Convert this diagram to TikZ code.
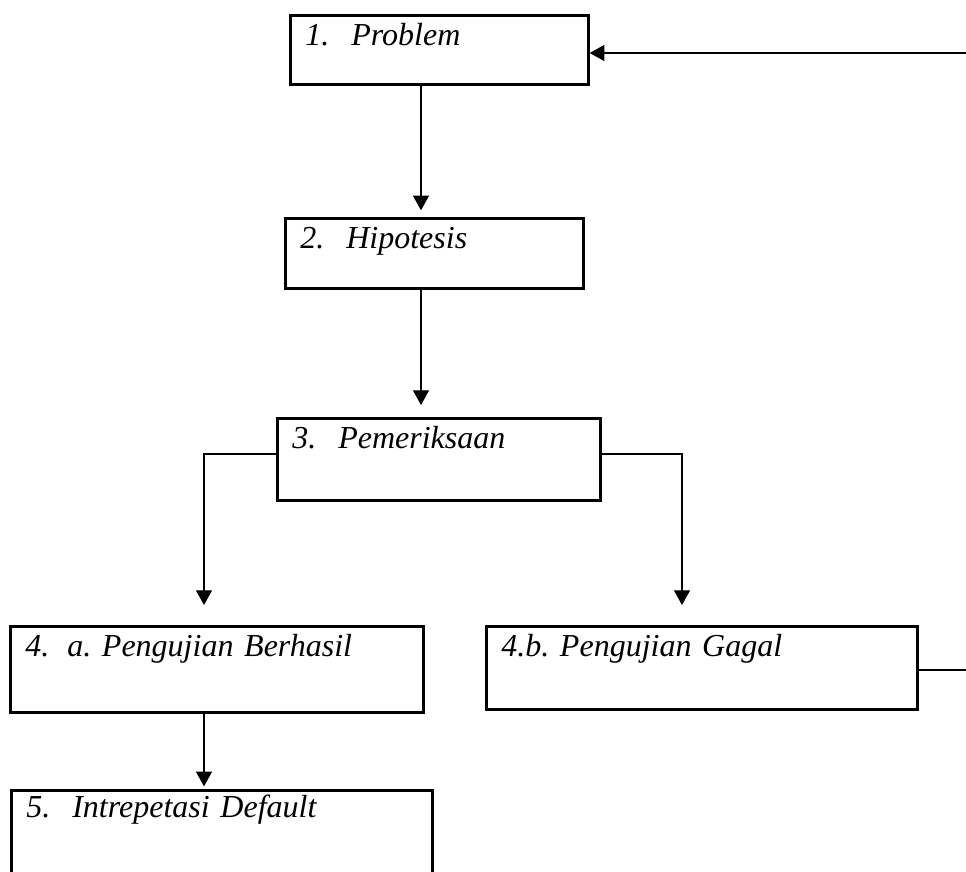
\documentclass[tikz,border=0pt]{standalone}
\usepackage{fontspec}
\setmainfont{Liberation Serif}
\usetikzlibrary{arrows.meta,positioning}

\newcommand{\stepno}[2][34.5pt]{\makebox[#1][l]{#2}}

\begin{document}
\frenchspacing
\begin{tikzpicture}[x=0.75pt, y=-0.75pt, >={Triangle[length=11pt,width=12pt]},
  stage/.style 2 args={draw, line width=2pt, anchor=north west, inner xsep=11.25pt, inner ysep=0pt,
    text width=#1, text height=22.5pt, text depth=#2, align=left,
    font=\fontsize{24}{28}\selectfont\itshape},
  link/.style={line width=0.8pt}]
\useasboundingbox (0,0) rectangle (966,871);
% boxes
\node[stage={201pt}{29.25pt}] (problem) at (289,14) {\stepno{1.}Problem};
\node[stage={201pt}{30pt}] (hipo) at (284,217) {\stepno{2.}Hipotesis};
\node[stage={219.75pt}{39pt}] (periksa) at (276,417) {\stepno{3.}Pemeriksaan};
\node[stage={287.25pt}{42pt}] (berhasil) at (9,625) {\stepno[31.5pt]{4.}a. Pengujian Berhasil};
\node[stage={300.75pt}{39.75pt}] (gagal) at (485,625) {4.b. Pengujian Gagal};
\node[stage={293.25pt}{62pt}, text height=20.5pt] (default) at (10,789) {\stepno{5.}Intrepetasi Default};
% turning points
\coordinate (midA) at (421,0);
\coordinate (forkL) at (204,454);
\coordinate (forkR) at (682,454);
\coordinate (loopB) at (975,670);
\coordinate (loopT) at (975,53);
% connectors
\draw[link,->,shorten >=5pt] (problem.south -| midA) -- (hipo.north -| midA);
\draw[link,->,shorten >=9pt] (hipo.south -| midA) -- (periksa.north -| midA);
\draw[link,->,shorten >=15pt] (periksa.west |- forkL) -| (berhasil.north -| forkL);
\draw[link,->,shorten >=15pt] (periksa.east |- forkR) -| (gagal.north -| forkR);
\draw[link,->,shorten >=2pt] (berhasil.south -| forkL) -- (default.north -| forkL);
\draw[link,->] (gagal.east |- loopB) -- (loopB) -- (loopT) -- (problem.east |- loopT);
\end{tikzpicture}
\end{document}
